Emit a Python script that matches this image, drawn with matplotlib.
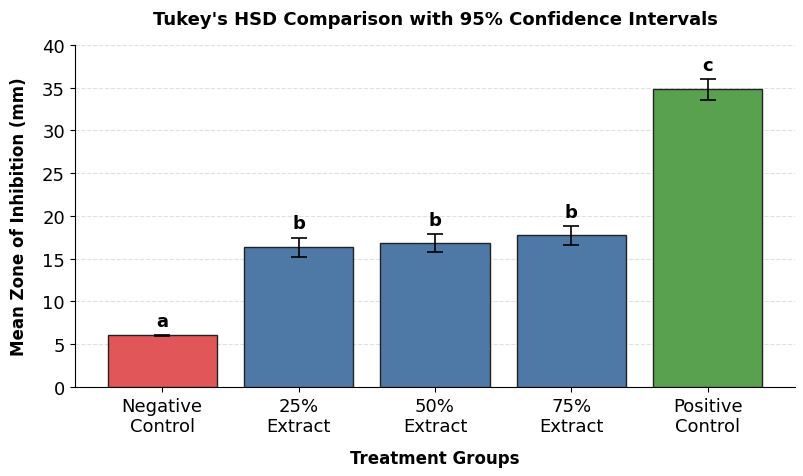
import matplotlib
matplotlib.use("Agg")
import matplotlib.pyplot as plt

plt.rcParams["font.family"] = ["DejaVu Sans"]

groups = ["Negative\nControl", "25%\nExtract", "50%\nExtract", "75%\nExtract", "Positive\nControl"]
means = [6.0, 16.3, 16.8, 17.7, 34.8]
ci = [0.1, 1.15, 1.05, 1.1, 1.2]
letters = ["a", "b", "b", "b", "c"]
colors = ["#e15759", "#4e79a7", "#4e79a7", "#4e79a7", "#59a14f"]

fig = plt.figure(figsize=(8.04, 4.77), dpi=100)
ax = fig.add_axes([0.093, 0.187, 0.896, 0.717])

x = range(len(groups))
ax.bar(x, means, width=0.8, color=colors, edgecolor="#222222", linewidth=1,
       yerr=ci, capsize=6, error_kw=dict(ecolor="black", elinewidth=1.2, capthick=1.2), zorder=3)
for xi, m, e, l in zip(x, means, ci, letters):
    ax.text(xi, m + e + 0.6, l, ha="center", va="bottom", fontsize=13, fontweight="bold")

ax.set_xticks(list(x))
ax.set_xticklabels(groups, fontsize=13)
ax.tick_params(axis="y", labelsize=13)
ax.set_ylim(0, 40)
ax.set_yticks(range(0, 41, 5))
ax.grid(axis="y", linestyle="--", color="#e0e0e0", linewidth=0.8, zorder=0)
ax.set_axisbelow(True)
ax.spines["top"].set_visible(False)
ax.spines["right"].set_visible(False)
ax.set_xlabel("Treatment Groups", fontsize=12, fontweight="bold", labelpad=10)
ax.set_ylabel("Mean Zone of Inhibition (mm)", fontsize=12, fontweight="bold", labelpad=10)
ax.set_title("Tukey's HSD Comparison with 95% Confidence Intervals", fontsize=13, fontweight="bold", pad=15)

fig.savefig("out.png", dpi=100)
